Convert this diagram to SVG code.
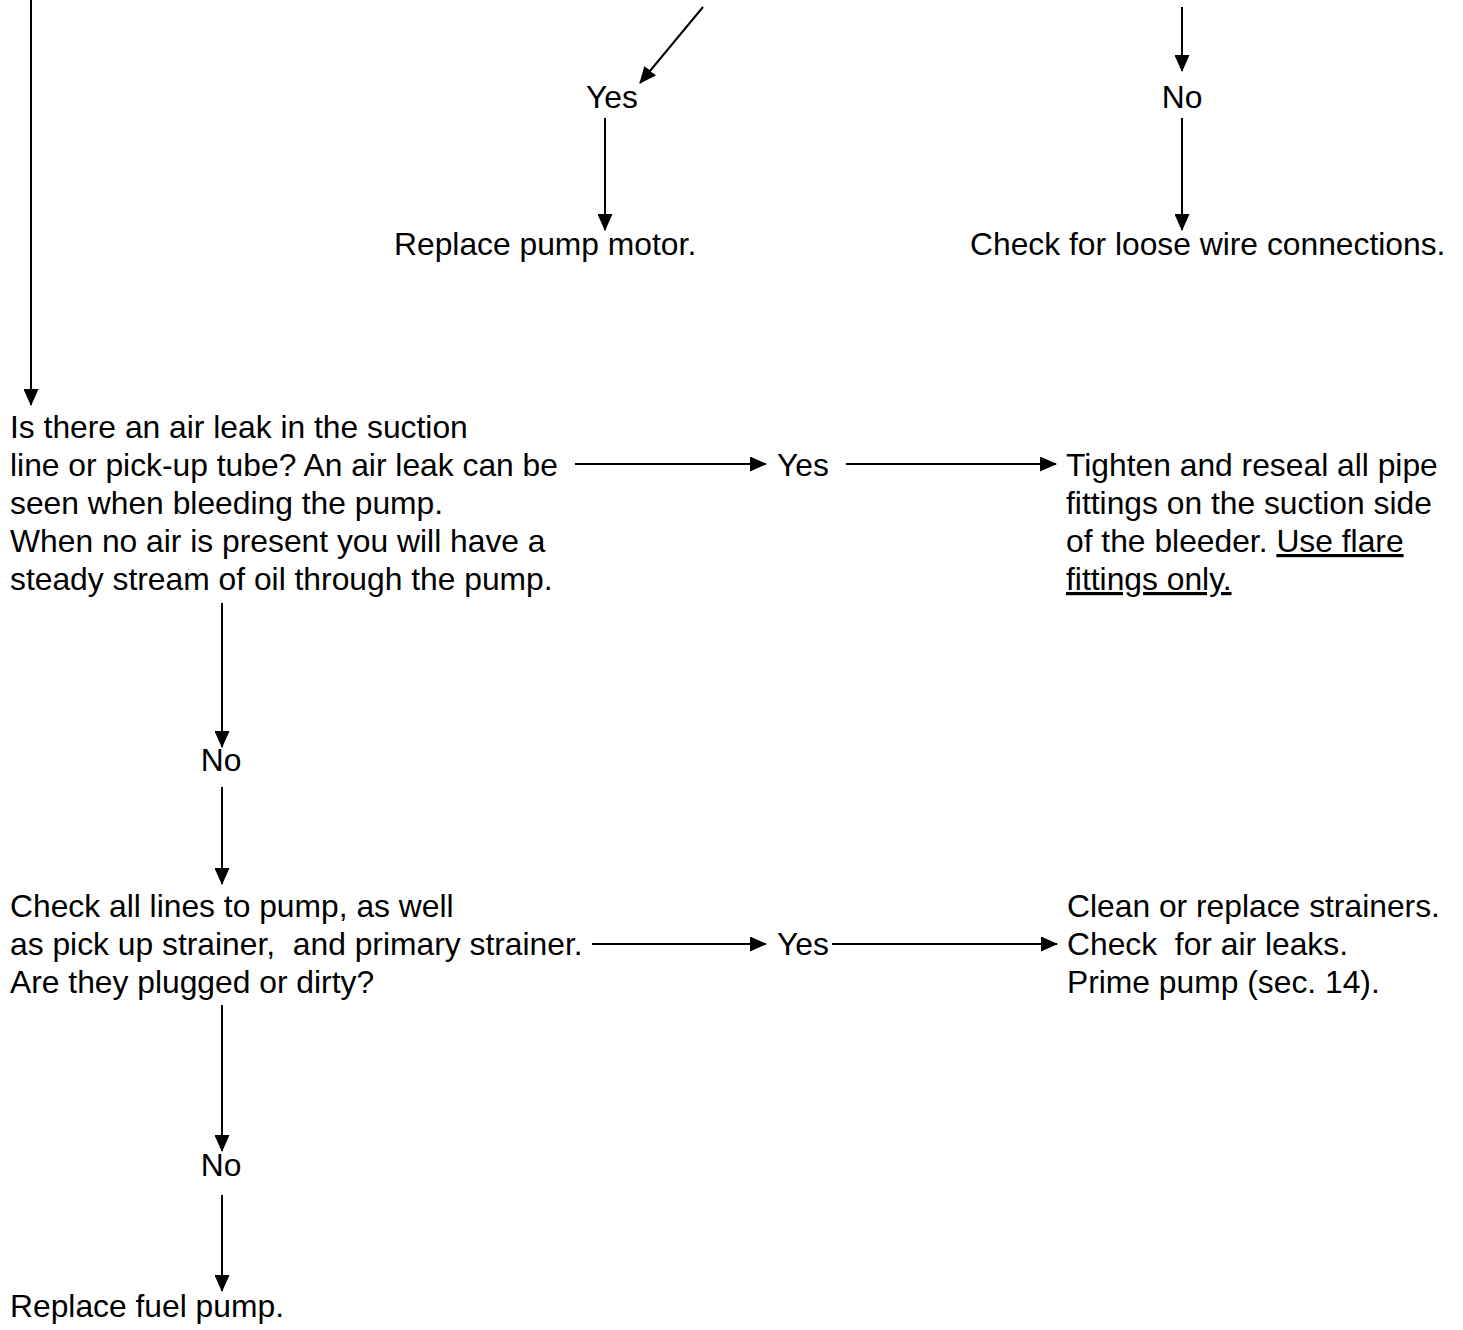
<svg xmlns="http://www.w3.org/2000/svg" width="1463" height="1330" viewBox="0 0 1463 1330">
<defs>
<style>
text{font-family:"Liberation Sans",Arial,sans-serif;font-size:31.8px;fill:#000;white-space:pre}
.c{text-anchor:middle}
.u{text-decoration:underline}
.ln{stroke:#000;stroke-width:2;fill:none;marker-end:url(#ah)}
</style>
<marker id="ah" viewBox="0 0 17 15" refX="16" refY="7.5" markerWidth="17" markerHeight="15" markerUnits="userSpaceOnUse" orient="auto">
<path d="M0,0 L17,7.5 L0,15 z" fill="#000"/>
</marker>
</defs>
<rect width="1463" height="1330" fill="#fff"/>
<g id="connectors">
<line class="ln" x1="31" y1="0" x2="31" y2="405"/>
<line class="ln" x1="703" y1="7" x2="640" y2="83"/>
<line class="ln" x1="605" y1="118" x2="605" y2="230"/>
<line class="ln" x1="1182" y1="7" x2="1182" y2="71"/>
<line class="ln" x1="1182" y1="118" x2="1182" y2="230"/>
<line class="ln" x1="575" y1="464" x2="766" y2="464"/>
<line class="ln" x1="846" y1="464" x2="1056" y2="464"/>
<line class="ln" x1="222" y1="603" x2="222" y2="747"/>
<line class="ln" x1="222" y1="787" x2="222" y2="884"/>
<line class="ln" x1="592" y1="944" x2="766" y2="944"/>
<line class="ln" x1="832" y1="944" x2="1057" y2="944"/>
<line class="ln" x1="222" y1="1005" x2="222" y2="1151"/>
<line class="ln" x1="222" y1="1195" x2="222" y2="1291"/>
</g>
<g id="yes-top"><text class="c" x="612" y="108">Yes</text></g>
<g id="no-top"><text class="c" x="1182" y="108">No</text></g>
<g id="replace-motor"><text x="394" y="255">Replace pump motor.</text></g>
<g id="check-wire"><text x="970" y="255">Check for loose wire connections.</text></g>
<g id="air-leak">
<text x="10" y="438">Is there an air leak in the suction</text>
<text x="10" y="476">line or pick-up tube? An air leak can be</text>
<text x="10" y="514">seen when bleeding the pump.</text>
<text x="10" y="552">When no air is present you will have a</text>
<text x="10" y="590">steady stream of oil through the pump.</text>
</g>
<g id="yes-mid"><text x="777" y="476">Yes</text></g>
<g id="tighten">
<text x="1066" y="476">Tighten and reseal all pipe</text>
<text x="1066" y="514">fittings on the suction side</text>
<text x="1066" y="552">of the bleeder. <tspan class="u">Use flare</tspan></text>
<text x="1066" y="590" class="u">fittings only.</text>
</g>
<g id="no-mid"><text class="c" x="221" y="771">No</text></g>
<g id="check-lines">
<text x="10" y="917">Check all lines to pump, as well</text>
<text x="10" y="955">as pick up strainer,  and primary strainer.</text>
<text x="10" y="993">Are they plugged or dirty?</text>
</g>
<g id="yes-low"><text x="777" y="955">Yes</text></g>
<g id="clean">
<text x="1067" y="917">Clean or replace strainers.</text>
<text x="1067" y="955">Check  for air leaks.</text>
<text x="1067" y="993">Prime pump (sec. 14).</text>
</g>
<g id="no-low"><text class="c" x="221" y="1176">No</text></g>
<g id="replace-fuel"><text x="10" y="1317">Replace fuel pump.</text></g>
</svg>
